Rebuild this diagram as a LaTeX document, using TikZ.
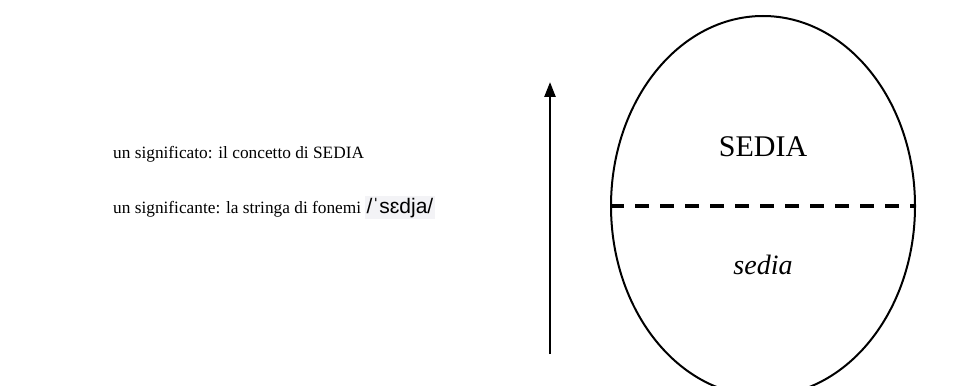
\documentclass[tikz,border=0pt]{standalone}
\usepackage{fontspec}
\setmainfont{Liberation Serif}
\newfontfamily\ipafont{Liberation Sans}
\usetikzlibrary{arrows.meta,shapes.geometric}
\definecolor{ipabg}{HTML}{F3F3F6}
\tikzset{
  lefttext/.style={anchor=base west, inner sep=0pt, font=\fontsize{17.3}{20}\selectfont},
  bigtext/.style={inner sep=0pt, font=\fontsize{30}{33}\selectfont},
  oval/.style={draw, ellipse, line width=2pt, inner sep=0pt, minimum width=304pt, minimum height=380pt},
  divider/.style={line width=3.5pt, dash pattern=on 14pt off 11pt},
  uparrow/.style={line width=2.5pt, -{Triangle[length=15pt,width=11pt]}}
}
\begin{document}
\begin{tikzpicture}[x=1pt,y=-1pt]
\clip (0,0) rectangle (973,385);
\fill[white] (0,0) rectangle (973,385);
\node[lefttext] (t1) at (113,158) {un significato: il concetto di SEDIA};
\node[lefttext] (t2) at (113,213) {un significante: la stringa di fonemi};
\node[anchor=base west, inner sep=2pt, fill=ipabg, font=\ipafont\fontsize{21}{24}\selectfont] (ipa) at ([xshift=3pt]t2.base east) {/ˈsɛdja/};
\coordinate (a0) at (550,354);
\coordinate (a1) at (550,82);
\draw[uparrow] (a0) -- (a1);
\node[oval] (ell) at (763,206) {};
\draw[divider] (ell.west) -- (ell.east);
\node[bigtext] (up) at (763,147) {SEDIA};
\node[bigtext, font=\fontsize{28}{31}\selectfont\itshape] (down) at (763,265) {sedia};
\end{tikzpicture}
\end{document}
